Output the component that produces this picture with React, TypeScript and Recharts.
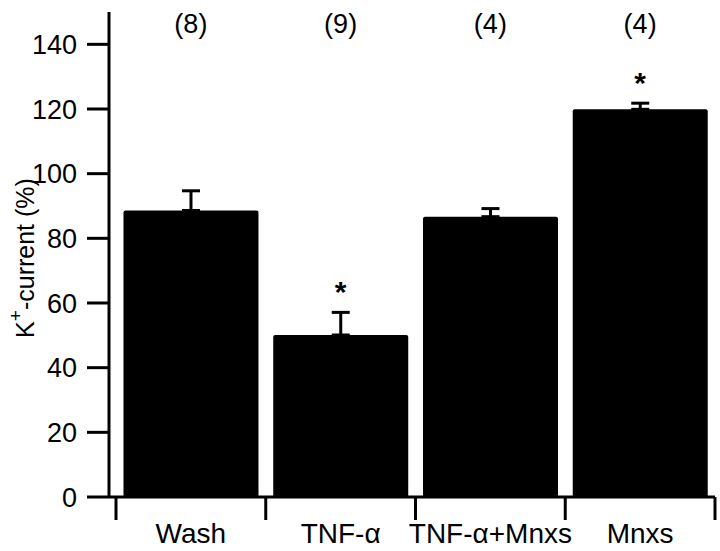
import React from 'react';
import { BarChart, Bar, XAxis, YAxis, ErrorBar, ReferenceDot } from 'recharts';

const categories = ['Wash', 'TNF-α', 'TNF-α+Mnxs', 'Mnxs'];
const currentPct = [88.6, 50.1, 86.7, 119.9];
const sem = [6.1, 7.0, 2.5, 1.9];
const nCells = [8, 9, 4, 4];
const significant = [false, true, false, true];
const yTicks = [0, 20, 40, 60, 80, 100, 120, 140];

const FONT = '"Liberation Sans", Arial, Helvetica, sans-serif';
const W = 720;
const H = 551;
const MARGIN = { top: 12, right: 5, bottom: 0, left: 0 };
const Y_AXIS_W = 109;
const PAD_LEFT = 7;
const band = (W - MARGIN.right - Y_AXIS_W - PAD_LEFT) / categories.length;

const data = categories.map((name, i) => ({
  name,
  value: currentPct[i],
  err: [0, sem[i]],
}));

const XTick = (props: any) => {
  const { x, y, payload, index } = props;
  const last = index === categories.length - 1;
  return (
    <g>
      <line x1={x - band / 2} x2={x - band / 2} y1={y} y2={y + 23} stroke="#000" strokeWidth={3} />
      {last && <line x1={x + band / 2} x2={x + band / 2} y1={y} y2={y + 23} stroke="#000" strokeWidth={3} />}
      <text x={x} y={y + 46} textAnchor="middle" fontSize={28} fontFamily={FONT} fill="#000">
        {payload.value}
      </text>
    </g>
  );
};

const YLabel = () => (
  <text
    x={25}
    y={258}
    transform="rotate(-90, 25, 258)"
    textAnchor="middle"
    dominantBaseline="central"
    fontSize={25}
    fontFamily={FONT}
    fill="#000"
  >
    K<tspan dy={-10} fontSize={19}>+</tspan>
    <tspan dy={10}>-current (%)</tspan>
  </text>
);

export default function App() {
  return (
    <div style={{ position: 'absolute', left: 0, top: 0, background: '#fff' }}>
      <BarChart width={W} height={H} data={data} margin={MARGIN} barCategoryGap="5%">
        <XAxis
          dataKey="name"
          height={54}
          padding={{ left: PAD_LEFT, right: 0 }}
          axisLine={{ stroke: '#000', strokeWidth: 3 }}
          tickLine={false}
          tickSize={0}
          tickMargin={0}
          interval={0}
          tick={<XTick />}
        />
        <YAxis
          width={Y_AXIS_W}
          domain={[0, 150]}
          ticks={yTicks}
          axisLine={{ stroke: '#000', strokeWidth: 3 }}
          tickLine={{ stroke: '#000', strokeWidth: 3 }}
          tickSize={22}
          tickMargin={10}
          tick={{ fill: '#000', fontSize: 27, fontFamily: FONT }}
          label={{ content: () => <YLabel /> }}
        />
        <Bar dataKey="value" fill="#000" radius={[2, 2, 0, 0]} isAnimationActive={false}>
          <ErrorBar dataKey="err" width={9} stroke="#000" strokeWidth={3} direction="y" isAnimationActive={false} />
        </Bar>
        {categories.map((c, i) => (
          <ReferenceDot
            key={'n' + c}
            x={c}
            y={146.4}
            r={0}
            shape={(p: any) => (
              <text x={p.cx} y={p.cy} textAnchor="middle" dominantBaseline="central" fontSize={27} fontFamily={FONT} fill="#000">
                ({nCells[i]})
              </text>
            )}
          />
        ))}
        {categories.map((c, i) =>
          significant[i] ? (
            <ReferenceDot
              key={'s' + c}
              x={c}
              y={currentPct[i] + sem[i] + 8.5}
              r={0}
              shape={(p: any) => (
                <text x={p.cx} y={p.cy + 17} textAnchor="middle" fontSize={30} fontWeight="bold" fontFamily={FONT} fill="#000">
                  *
                </text>
              )}
            />
          ) : null
        )}
      </BarChart>
    </div>
  );
}
